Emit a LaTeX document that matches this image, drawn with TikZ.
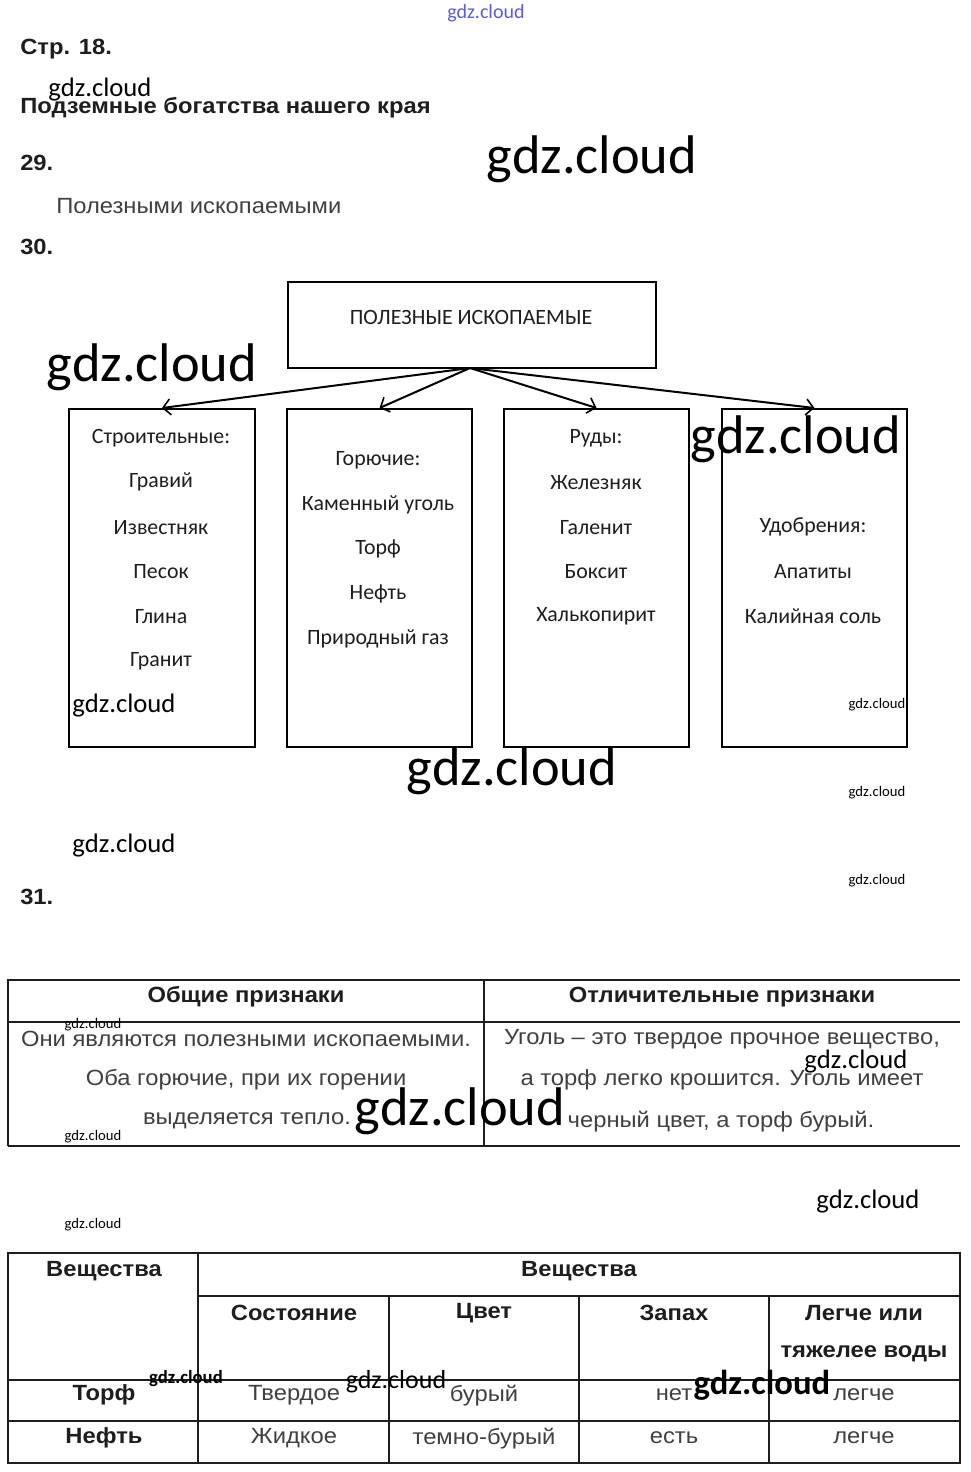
\documentclass[tikz,border=0pt]{standalone}
\usepackage{fontspec}
\setmainfont{Liberation Sans}[FakeStretch=1.08]
\newfontfamily\calfont{Carlito}
\usetikzlibrary{arrows.meta}
\definecolor{ink}{HTML}{1E1E1E}
\definecolor{wmblue}{HTML}{3333CC}
\tikzset{
  txt/.style={inner sep=0pt,yshift=-1.6pt},
  hd/.style={txt,anchor=west,text=ink,font=\bfseries\fontsize{16.5pt}{18pt}\selectfont},
  plain/.style={txt,anchor=west,text=ink!85,font=\fontsize{16.5pt}{18pt}\selectfont},
  boxtext/.style={txt,text=ink,font=\calfont\fontsize{16.4pt}{18pt}\selectfont},
  cbox/.style={draw=black,line width=1.5pt,minimum width=#1,inner sep=0pt,anchor=north west},
  arr/.style={line width=1.5pt,-{Straight Barb[length=5.5pt,width=12pt,line width=1.2pt]}},
  tline/.style={draw=ink,line width=0.8pt},
  th/.style={txt,text=ink,font=\bfseries\fontsize{16.5pt}{18pt}\selectfont},
  td/.style={txt,text=ink!85,font=\fontsize{16.5pt}{18pt}\selectfont},
  wmL/.style={txt,text=black,font=\calfont\fontsize{40.8pt}{42pt}\selectfont},
  wmM/.style={txt,text=black,font=\calfont\fontsize{20pt}{22pt}\selectfont},
  wmS/.style={txt,text=black,font=\calfont\fontsize{11pt}{12pt}\selectfont},
}
\begin{document}
\begin{tikzpicture}[x=0.75pt,y=-0.75pt]
\useasboundingbox[fill=white] (0,0) rectangle (971,1472);

% header texts
\node[txt,text=wmblue!80,font=\calfont\fontsize{15pt}{16pt}\selectfont] (wtop) at (486,11) {gdz.cloud};
\node[hd] (p18) at (20,47) {Стр. 18.};
\node[hd] (title) at (20,106) {Подземные богатства нашего края};
\node[hd] (n29) at (20,161) {29.};
\node[plain] (a29) at (56,204) {Полезными ископаемыми};
\node[hd] (n30) at (20,245) {30.};
\node[hd] (n31) at (20,895) {31.};

% diagram
\node[cbox=368*0.75pt,minimum height=86*0.75pt] (top) at (287,281) {};
\node[boxtext] (toptext) at (471,315) {ПОЛЕЗНЫЕ ИСКОПАЕМЫЕ};
\node[cbox=186*0.75pt,minimum height=338*0.75pt] (b1) at (68,408) {};
\node[cbox=185*0.75pt,minimum height=338*0.75pt] (b2) at (286,408) {};
\node[cbox=185*0.75pt,minimum height=338*0.75pt] (b3) at (503,408) {};
\node[cbox=185*0.75pt,minimum height=338*0.75pt] (b4) at (721,408) {};
\coordinate (hub) at (470,368);
\draw[arr] (hub) -- (b1.north);
\draw[arr] (hub) -- (b2.north);
\draw[arr] (hub) -- (b3.north);
\draw[arr] (hub) -- (b4.north);

\node[boxtext] (s1) at (161,436) {Строительные:};
\node[boxtext] (s2) at (161,480) {Гравий};
\node[boxtext] (s3) at (161,525) {Известняк};
\node[boxtext] (s4) at (161,569) {Песок};
\node[boxtext] (s5) at (161,614) {Глина};
\node[boxtext] (s6) at (161,659) {Гранит};

\node[boxtext] (g1) at (378,458) {Горючие:};
\node[boxtext] (g2) at (378,503) {Каменный уголь};
\node[boxtext] (g3) at (378,547) {Торф};
\node[boxtext] (g4) at (378,592) {Нефть};
\node[boxtext] (g5) at (378,637) {Природный газ};

\node[boxtext] (r1) at (596,436) {Руды:};
\node[boxtext] (r2) at (596,480) {Железняк};
\node[boxtext] (r3) at (596,525) {Галенит};
\node[boxtext] (r4) at (596,569) {Боксит};
\node[boxtext] (r5) at (596,614) {Халькопирит};

\node[boxtext] (u1) at (813,525) {Удобрения:};
\node[boxtext] (u2) at (813,569) {Апатиты};
\node[boxtext] (u3) at (813,614) {Калийная соль};

% table 1
\draw[tline] (8,1146) -- (8,980) -- (960,980);
\draw[tline] (8,1022) -- (960,1022);
\draw[tline] (8,1146) -- (960,1146);
\draw[tline] (484,980) -- (484,1146);
\node[th] (h1) at (246,995) {Общие признаки};
\node[th] (h2) at (722,995) {Отличительные признаки};
\node[td] (c11) at (246,1037) {Они являются полезными ископаемыми.};
\node[td] (c12) at (246,1078) {Оба горючие, при их горении};
\node[td] (c13) at (247,1119) {выделяется тепло.};
\node[td] (c21) at (722,1037) {Уголь – это твердое прочное вещество,};
\node[td] (c22) at (722,1078) {а торф легко крошится. Уголь имеет};
\node[td] (c23) at (721,1119) {черный цвет, а торф бурый.};

% table 2
\draw[tline] (8,1253) rectangle (960,1463);
\draw[tline] (198,1253) -- (198,1463);
\draw[tline] (389,1296) -- (389,1463);
\draw[tline] (579,1296) -- (579,1463);
\draw[tline] (769,1296) -- (769,1463);
\draw[tline] (198,1296) -- (960,1296);
\draw[tline] (8,1380) -- (960,1380);
\draw[tline] (8,1421) -- (960,1421);
\node[th] (v1) at (104,1269) {Вещества};
\node[th] (v2) at (579,1269) {Вещества};
\node[th] (k1) at (294,1311) {Состояние};
\node[th] (k2) at (484,1311) {Цвет};
\node[th] (k3) at (674,1311) {Запах};
\node[th] (k4) at (864,1311) {Легче или};
\node[th] (k4b) at (864,1352) {тяжелее воды};
\node[th] (rt) at (104,1393) {Торф};
\node[td] (rt1) at (294,1393) {Твердое};
\node[td] (rt2) at (484,1393) {бурый};
\node[td] (rt3) at (674,1393) {нет};
\node[td] (rt4) at (864,1393) {легче};
\node[th] (rn) at (104,1436) {Нефть};
\node[td] (rn1) at (294,1436) {Жидкое};
\node[td] (rn2) at (484,1436) {темно-бурый};
\node[td] (rn3) at (674,1436) {есть};
\node[td] (rn4) at (864,1436) {легче};

% watermarks
\node[wmM] (w1) at (100,87) {gdz.cloud};
\node[wmL] (w2) at (592,157) {gdz.cloud};
\node[wmL] (w3) at (152,365) {gdz.cloud};
\node[wmL] (w4) at (796,437) {gdz.cloud};
\node[wmM] (w5) at (124,703) {gdz.cloud};
\node[wmS] (w6) at (877,703) {gdz.cloud};
\node[wmL] (w7) at (512,769) {gdz.cloud};
\node[wmS] (w8) at (877,791) {gdz.cloud};
\node[wmM] (w9) at (124,843) {gdz.cloud};
\node[wmS] (w10) at (877,879) {gdz.cloud};
\node[wmS] (w11) at (93,1023) {gdz.cloud};
\node[wmM] (w12) at (856,1059) {gdz.cloud};
\node[wmL] (w13) at (460,1109) {gdz.cloud};
\node[wmS] (w14) at (93,1135) {gdz.cloud};
\node[wmM] (w15) at (868,1199) {gdz.cloud};
\node[wmS] (w16) at (93,1223) {gdz.cloud};
\node[txt,font=\calfont\bfseries\fontsize{14pt}{15pt}\selectfont] (w17) at (186,1376) {gdz.cloud};
\node[txt,font=\calfont\fontsize{19.5pt}{21pt}\selectfont] (w18) at (396,1380) {gdz.cloud};
\node[txt,font=\calfont\bfseries\fontsize{26pt}{28pt}\selectfont] (w19) at (762,1383) {gdz.cloud};
\end{tikzpicture}
\end{document}
